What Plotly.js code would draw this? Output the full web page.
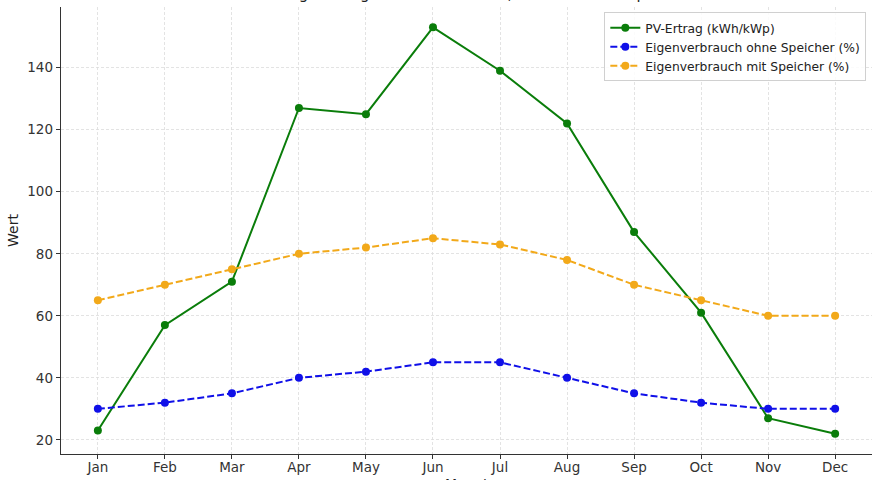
<!DOCTYPE html>
<html>
<head>
<meta charset="utf-8">
<script src="https://cdn.plot.ly/plotly-3.0.1.min.js"></script>
<style>html,body{margin:0;padding:0;background:#fff;}#chart{width:880px;height:480px;}</style>
</head>
<body>
<div id="chart"></div>
<script>
const months = ["Jan","Feb","Mar","Apr","May","Jun","Jul","Aug","Sep","Oct","Nov","Dec"];
const pvErtrag = [23, 57, 71, 127, 125, 153, 139, 122, 87, 61, 27, 22];
const ohneSpeicher = [30, 32, 35, 40, 42, 45, 45, 40, 35, 32, 30, 30];
const mitSpeicher = [65, 70, 75, 80, 82, 85, 83, 78, 70, 65, 60, 60];
const seriesNames = ["PV-Ertrag (kWh/kWp)", "Eigenverbrauch ohne Speicher (%)", "Eigenverbrauch mit Speicher (%)"];
const titleText = "PV-Ertrag und Eigenverbrauch 2023, Haus mit 10 kWp";
const xTitle = "Monat";
const yTitle = "Wert";

const traces = [
  {x: months, y: pvErtrag, name: seriesNames[0], type: "scatter", mode: "lines+markers",
   line: {color: "#0a7d0a", width: 2}, marker: {color: "#0a7d0a", size: 8}},
  {x: months, y: ohneSpeicher, name: seriesNames[1], type: "scatter", mode: "lines+markers",
   line: {color: "#1010e8", width: 2, dash: "7px,3px"}, marker: {color: "#1010e8", size: 8}},
  {x: months, y: mitSpeicher, name: seriesNames[2], type: "scatter", mode: "lines+markers",
   line: {color: "#f2a91a", width: 2, dash: "7px,3px"}, marker: {color: "#f2a91a", size: 8}}
];

const layout = {
  width: 880, height: 480,
  margin: {l: 61, r: 8, t: 7, b: 26, pad: 0},
  paper_bgcolor: "#fff", plot_bgcolor: "#fff",
  font: {family: "DejaVu Sans", size: 13, color: "#333"},
  showlegend: true,
  legend: {x: 0.993, y: 0.988, xanchor: "right", yanchor: "top", itemwidth: 30,
           bgcolor: "rgba(255,255,255,0.85)", bordercolor: "#d0d0d0", borderwidth: 1,
           font: {family: "DejaVu Sans", size: 12.3, color: "#222"}, tracegroupgap: 0},
  xaxis: {type: "category", range: [-0.55, 11.55], showline: true, linecolor: "#333", linewidth: 1.3,
          ticks: "outside", ticklen: 4, tickcolor: "#333", showgrid: true, gridcolor: "#dcdcdc",
          griddash: "3px,2px", gridwidth: 0.8, zeroline: false, mirror: false, ticklabelstandoff: -4,
          tickfont: {size: 13.5, color: "#333"}},
  yaxis: {range: [15.45, 159.55], showline: true, linecolor: "#333", linewidth: 1.3,
          ticks: "outside", ticklen: 4, tickcolor: "#333", showgrid: true, gridcolor: "#dcdcdc",
          griddash: "3px,2px", gridwidth: 0.8, zeroline: false, tickvals: [20,40,60,80,100,120,140],
          title: {text: yTitle, font: {size: 14, color: "#222"}, standoff: 5},
          tickfont: {size: 13.5, color: "#333"}},
  annotations: [
    {text: titleText, xref: "paper", yref: "paper", x: 0.47, y: 1, yshift: 2, xanchor: "center", yanchor: "bottom",
     showarrow: false, font: {family: "DejaVu Sans", size: 15, color: "#222"}},
    {text: xTitle, xref: "paper", yref: "paper", x: 0.5, y: 0, yshift: -20, xanchor: "center", yanchor: "top",
     showarrow: false, font: {family: "DejaVu Sans", size: 14, color: "#222"}}
  ]
};

Plotly.newPlot("chart", traces, layout, {displayModeBar: false, staticPlot: true});
</script>
</body>
</html>
